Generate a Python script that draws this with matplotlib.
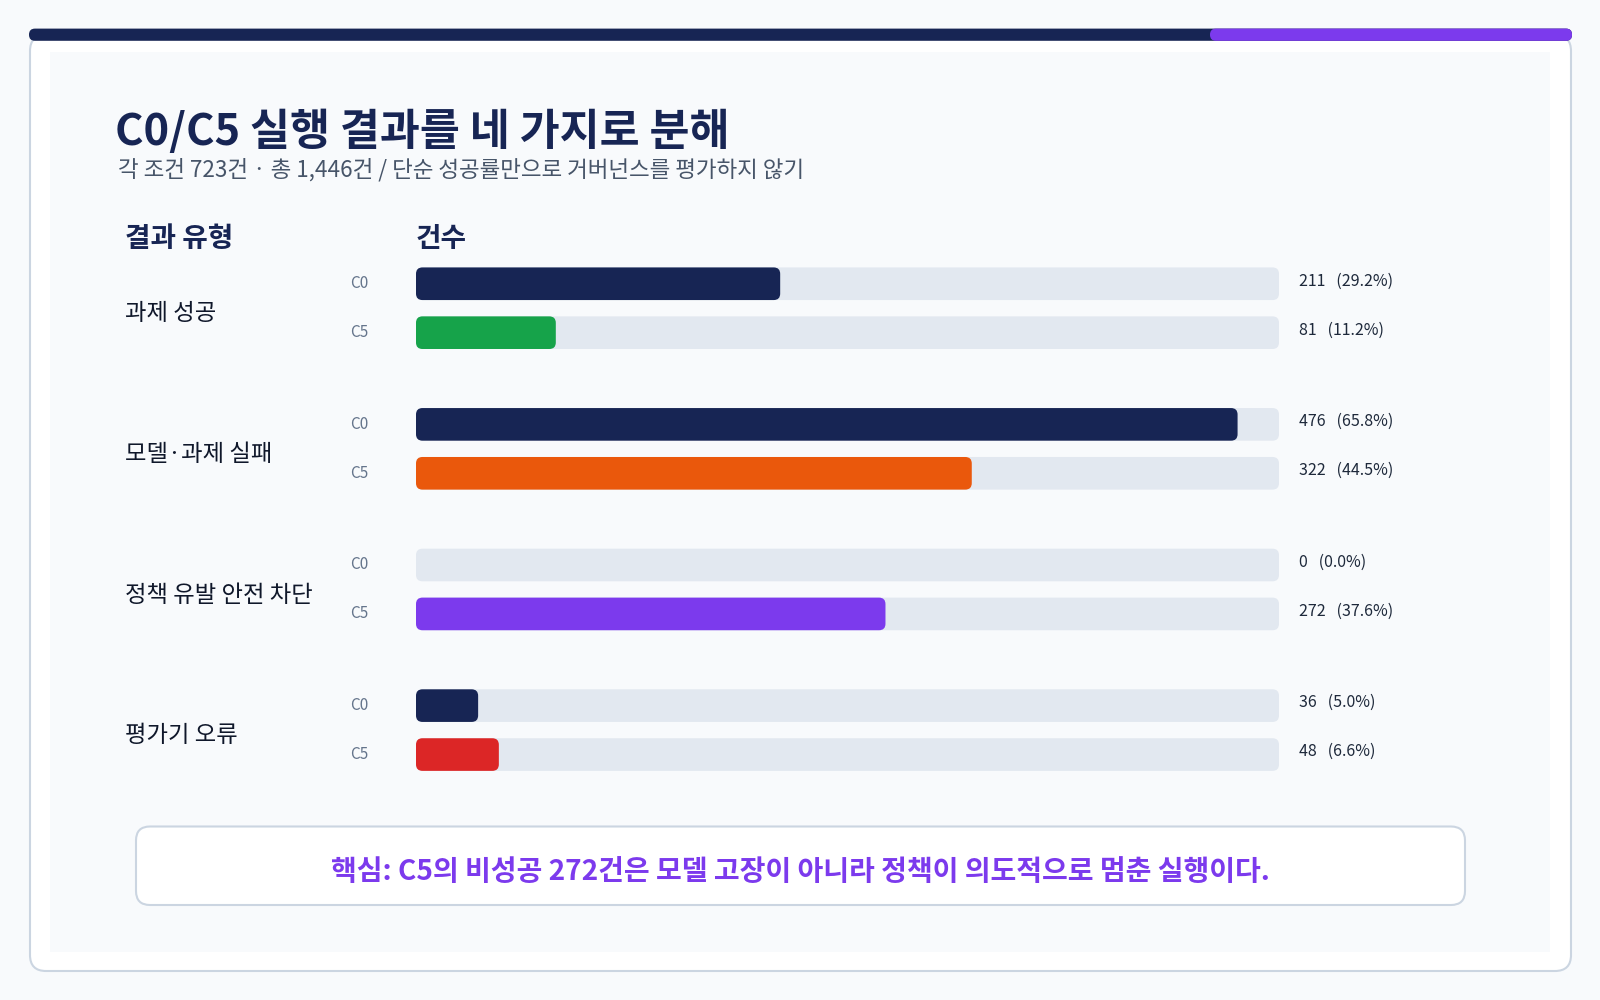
import matplotlib
matplotlib.use("Agg")
import matplotlib.pyplot as plt
from matplotlib.patches import FancyBboxPatch, Rectangle
import matplotlib.transforms as mtransforms
import numpy as np

plt.rcParams['font.family'] = ['Noto Sans CJK KR', 'DejaVu Sans']

# ---------------- data ----------------
title = "C0/C5 실행 결과를 네 가지로 분해"
subtitle = "각 조건 723건 · 총 1,446건 / 단순 성공률만으로 거버넌스를 평가하지 않기"
col_header_left = "결과 유형"
col_header_right = "건수"
categories = ["과제 성공", "모델·과제 실패", "정책 유발 안전 차단", "평가기 오류"]
conditions = ["C0", "C5"]
c0_values = [211, 476, 0, 36]
c5_values = [81, 322, 272, 48]
total_per_condition = 723
axis_max = 500
c5_colors = ["#16a34a", "#ea580c", "#7c3aed", "#dc2626"]
c0_color = "#172554"
callout = "핵심: C5의 비성공 272건은 모델 고장이 아니라 정책이 의도적으로 멈춘 실행이다."

NAVY = "#172554"
PURPLE = "#7c3aed"
TRACK = "#e2e8f0"
BORDER = "#cbd5e1"
BG = "#f8fafc"

fig = plt.figure(figsize=(16, 10), dpi=100)
fig.patch.set_facecolor(BG)

# background axes in pixel coordinates
bg = fig.add_axes([0, 0, 1, 1], zorder=0)
bg.set_xlim(0, 1600)
bg.set_ylim(1000, 0)
bg.axis('off')

# outer card
bg.add_patch(FancyBboxPatch((30, 35), 1541, 936, boxstyle="round,pad=0,rounding_size=16",
                            fc="white", ec=BORDER, lw=1.5, zorder=1))
# inner panel
bg.add_patch(Rectangle((50, 52), 1500, 900, fc=BG, ec="none", zorder=2))
# top bar
bg.add_patch(FancyBboxPatch((29, 28.6), 1543, 12.2, boxstyle="round,pad=0,rounding_size=6",
                            fc=NAVY, ec="none", zorder=3))
bg.add_patch(FancyBboxPatch((1210, 28.6), 362, 12.2, boxstyle="round,pad=0,rounding_size=6",
                            fc=PURPLE, ec="none", zorder=4))

# titles
bg.text(115, 132, title, fontsize=31.3, fontweight='bold', color=NAVY, va='center', ha='left', zorder=5)
bg.text(118, 170, subtitle, fontsize=16.2, color="#475569", va='center', ha='left', zorder=5)
bg.text(125, 239, col_header_left, fontsize=20, fontweight='bold', color=NAVY, va='center', ha='left', zorder=5)
bg.text(416, 239, col_header_right, fontsize=20, fontweight='bold', color=NAVY, va='center', ha='left', zorder=5)

# callout
bg.add_patch(FancyBboxPatch((136, 826.5), 1329, 78.5, boxstyle="round,pad=0,rounding_size=14",
                            fc="white", ec=BORDER, lw=1.5, zorder=3))
bg.text(800, 872, callout, fontsize=20.2, fontweight='bold', color=PURPLE, va='center', ha='center', zorder=5)

# ---------------- bar axes ----------------
ax_left_px, ax_right_px = 416, 1279
ax_top_px, ax_bot_px = 237.9, 800.4
ax = fig.add_axes([ax_left_px / 1600, 1 - ax_bot_px / 1000,
                   (ax_right_px - ax_left_px) / 1600, (ax_bot_px - ax_top_px) / 1000], zorder=3)
ax.set_facecolor('none')
ax.axis('off')
ax.set_xlim(0, axis_max)
ax.set_ylim(3.5, -0.5)

groups = np.arange(len(categories))
offset = 0.174
bar_h = 0.232
y_c0 = groups - offset
y_c5 = groups + offset

px_per_x = (ax_right_px - ax_left_px) / axis_max
px_per_y = (ax_bot_px - ax_top_px) / 4.0
aspect = px_per_x / px_per_y
radius_px = 6.5


def roundify(container, z):
    for r in container:
        x, y = r.get_xy()
        w, hh = r.get_width(), r.get_height()
        r.set_visible(False)
        if w <= 0:
            continue
        p = FancyBboxPatch((x, y), w, hh,
                           boxstyle=f"round,pad=0,rounding_size={radius_px / px_per_x}",
                           mutation_aspect=aspect, fc=r.get_facecolor(), ec='none', zorder=z)
        ax.add_patch(p)


all_y = np.concatenate([y_c0, y_c5])
tracks = ax.barh(all_y, [axis_max] * len(all_y), height=bar_h, color=TRACK)
roundify(tracks, 1)
b0 = ax.barh(y_c0, c0_values, height=bar_h, color=c0_color)
roundify(b0, 2)
b5 = ax.barh(y_c5, c5_values, height=bar_h, color=c5_colors)
roundify(b5, 2)

trans = mtransforms.blended_transform_factory(bg.transData, ax.transData)

for i, cat in enumerate(categories):
    ax.text(125, groups[i] + 0.04, cat, transform=trans, fontsize=16.8, color="#0f172a",
            va='center', ha='left')
    for yy, cond, val in ((y_c0[i], conditions[0], c0_values[i]),
                          (y_c5[i], conditions[1], c5_values[i])):
        ax.text(350, yy, cond, transform=trans, fontsize=11, color="#64748b",
                va='center', ha='left')
        pct = val / total_per_condition * 100
        ax.text(1299, yy - 0.02, f"{val}   ({pct:.1f}%)", transform=trans, fontsize=11.5,
                color="#1e293b", va='center', ha='left')

fig.savefig("out.png", dpi=100, facecolor=fig.get_facecolor())
